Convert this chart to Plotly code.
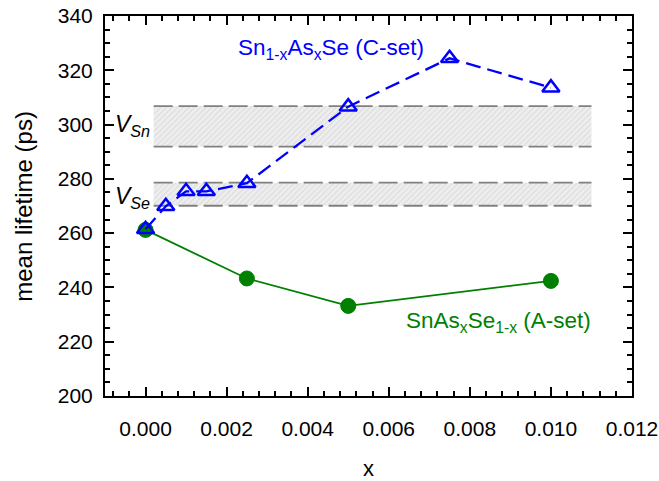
import plotly.graph_objects as go

# C-set: Sn(1-x)As(x)Se
x_c = [0.0, 0.0005, 0.001, 0.0015, 0.0025, 0.005, 0.0075, 0.010]
y_c = [261.4, 269.9, 275.4, 275.4, 278.4, 306.6, 324.4, 313.6]

# A-set: SnAs(x)Se(1-x)
x_a = [0.0, 0.0025, 0.005, 0.010]
y_a = [261.2, 243.3, 233.2, 242.4]

# vacancy lifetime bands
band_x = [0.0002, 0.011]
vsn_band = [291.9, 306.8]
vse_band = [270.1, 278.6]

x_ticks = [0.000, 0.002, 0.004, 0.006, 0.008, 0.010, 0.012]
y_ticks = [200, 220, 240, 260, 280, 300, 320, 340]

FONT = "Liberation Sans, Arial, sans-serif"

fig = go.Figure()

for lo, hi in (vsn_band, vse_band):
    fig.add_trace(go.Scatter(
        x=[band_x[0], band_x[1], band_x[1], band_x[0], band_x[0]],
        y=[lo, lo, hi, hi, lo],
        mode="lines", line=dict(width=0), fill="toself",
        fillcolor="#ececec",
        fillpattern=dict(shape="/", fgcolor="#c4c4c4", bgcolor="#eeeeee",
                         size=4, solidity=0.25),
        hoverinfo="skip", showlegend=False))
    for yv in (lo, hi):
        fig.add_trace(go.Scatter(
            x=band_x, y=[yv, yv], mode="lines",
            line=dict(color="#808080", width=1.8, dash="19px,6px"),
            hoverinfo="skip", showlegend=False))

fig.add_trace(go.Scatter(
    x=x_a, y=y_a, mode="lines+markers",
    line=dict(color="#008000", width=1.8),
    marker=dict(symbol="circle", size=15, color="#008000",
                line=dict(color="#008000", width=1)),
    showlegend=False))

fig.add_trace(go.Scatter(
    x=x_c, y=y_c, mode="lines+markers",
    line=dict(color="#0000ff", width=2.3, dash="15px,7px"),
    marker=dict(symbol="triangle-up-open", size=15, color="#0000ff",
                line=dict(color="#0000ff", width=2.5)),
    showlegend=False))

annotations = [
    dict(x=0.00458, y=328.0, text="Sn<sub>1-x</sub>As<sub>x</sub>Se (C-set)",
         font=dict(family=FONT, size=22.5, color="#0000ff")),
    dict(x=0.00871, y=227.3, text="SnAs<sub>x</sub>Se<sub>1-x</sub> (A-set)",
         font=dict(family=FONT, size=22.5, color="#008000")),
    dict(x=0.00017, y=299.8, xanchor="right",
         text="<i>V<sub>Sn</sub></i>",
         font=dict(family=FONT, size=23, color="black")),
    dict(x=0.00017, y=273.0, xanchor="right",
         text="<i>V<sub>Se</sub></i>",
         font=dict(family=FONT, size=23, color="black")),
]
for a in annotations:
    a.update(xref="x", yref="y", showarrow=False)

# axis titles as paper-anchored text
annotations.append(dict(xref="paper", yref="paper", x=0.5, y=-0.19,
                        xanchor="center", yanchor="middle", showarrow=False,
                        text="x", font=dict(family=FONT, size=22, color="black")))
annotations.append(dict(xref="paper", yref="paper", x=-0.156, y=0.5,
                        xanchor="center", yanchor="middle", showarrow=False,
                        textangle=-90, text="mean lifetime (ps)",
                        font=dict(family=FONT, size=24, color="black")))

axis_common = dict(
    showline=True, linecolor="black", linewidth=2, mirror="allticks",
    ticks="inside", ticklen=9, tickwidth=2, tickcolor="black",
    showgrid=False, zeroline=False, automargin=False,
    tickfont=dict(family=FONT, size=21, color="black"),
)

fig.update_layout(
    width=659, height=481,
    margin=dict(l=105, r=27, t=16, b=85),
    paper_bgcolor="white", plot_bgcolor="white",
    annotations=annotations,
    xaxis=dict(range=[-0.001, 0.012], tickvals=x_ticks, tickformat=".3f",
               minor=dict(dtick=0.0004, tick0=0, ticks="inside", ticklen=5,
                          tickwidth=1.5, tickcolor="black"),
               ticklabelstandoff=13,
               **axis_common),
    yaxis=dict(range=[200, 340], tickvals=y_ticks,
               minor=dict(dtick=5, tick0=200, ticks="inside", ticklen=5,
                          tickwidth=1.5, tickcolor="black"),
               ticklabelstandoff=6,
               **axis_common),
)

fig.write_html("out.html")
